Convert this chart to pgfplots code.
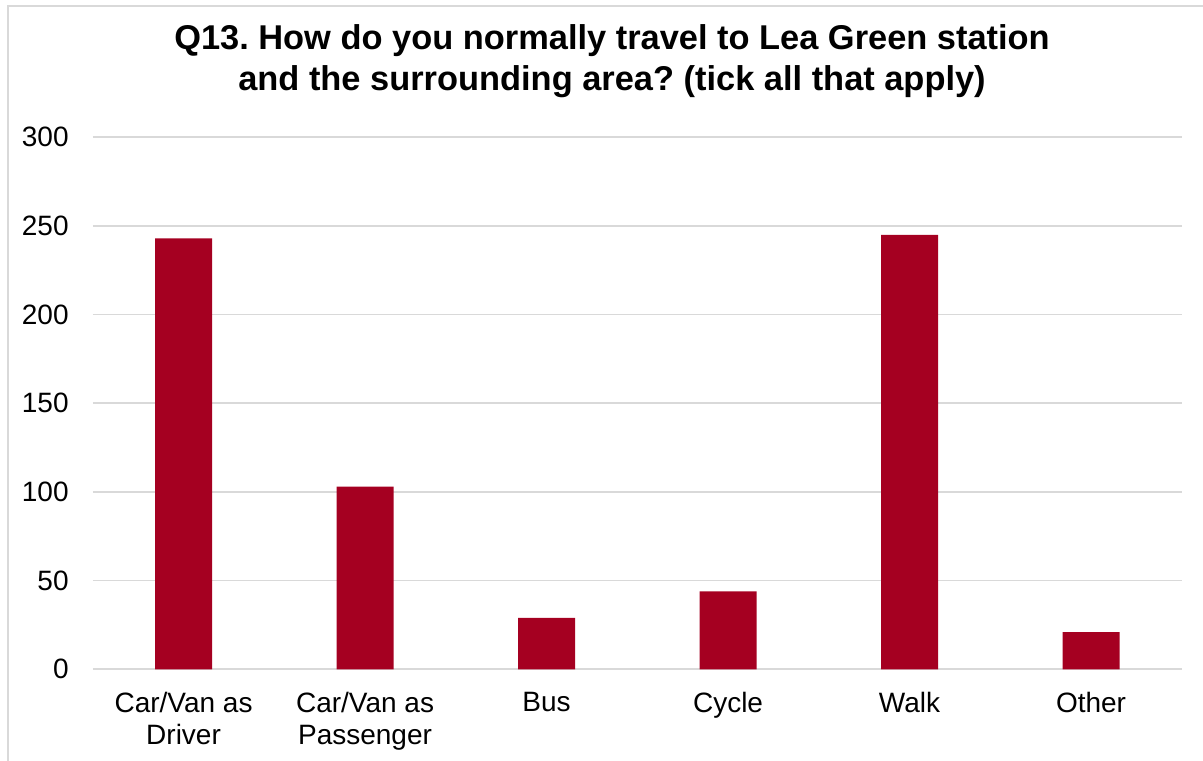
\documentclass[border=0pt]{standalone}
\usepackage{pgfplots}
\pgfplotsset{compat=1.18}
\usepackage{fontspec}
\setmainfont{Liberation Sans}
\frenchspacing
\definecolor{barred}{HTML}{A50021}
\definecolor{gridgray}{HTML}{D9D9D9}
\begin{document}
\begin{tikzpicture}
\useasboundingbox (0,0) rectangle (601.5pt,380pt);
\draw[gridgray, line width=1pt] (4pt,-10pt) -- (4pt,377pt) -- (620pt,377pt);
\node[anchor=base, inner sep=0pt, font=\fontsize{17.2pt}{20pt}\selectfont\bfseries] at (306pt,355pt) {Q13. How do you normally travel to Lea Green station};
\node[anchor=base, inner sep=0pt, font=\fontsize{17.2pt}{20pt}\selectfont\bfseries] at (306pt,334.5pt) {and the surrounding area? (tick all that apply)};
\begin{axis}[
  at={(46.4pt,45.35pt)}, anchor=south west,
  scale only axis, width=544.5pt, height=266pt,
  ymin=0, ymax=300, ytick={0,50,...,300},
  xmin=-0.5, xmax=5.5,
  xtick={0,1,2,3,4,5},
  xticklabels={{Car/Van as\\Driver},{Car/Van as\\Passenger},Bus,Cycle,Walk,Other},
  axis line style={draw=none},
  major tick length=0pt,
  ymajorgrids, grid style={gridgray, line width=0.85pt},
  ticklabel style={font=\fontsize{14pt}{16pt}\selectfont},
  /pgf/number format/assume math mode=true,
  yticklabel style={anchor=east, inner sep=0pt, xshift=-11.9pt},
  xticklabel style={anchor=north, inner sep=0pt, yshift=-11.5pt, align=center},
  ybar, bar width=28.5pt,
  clip=false,
]
\addplot[fill=barred, draw=none] coordinates {(0,243) (1,103) (2,29) (3,44) (4,245) (5,21)};
\end{axis}
\end{tikzpicture}
\end{document}
